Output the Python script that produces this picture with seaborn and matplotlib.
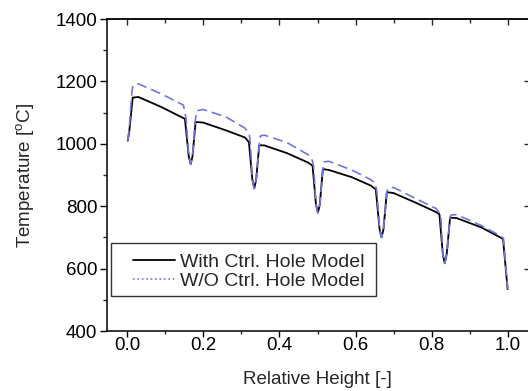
import matplotlib
matplotlib.use('Agg')
import matplotlib.pyplot as plt
from matplotlib.patches import Rectangle
import seaborn as sns
import numpy as np

# relative height / temperature
x_with = [0.002, 0.006, 0.015, 0.03, 0.09, 0.152,
          0.162, 0.167, 0.172, 0.180,
          0.20, 0.26, 0.31, 0.320,
          0.329, 0.334, 0.339, 0.347,
          0.36, 0.42, 0.475, 0.487,
          0.496, 0.501, 0.506, 0.514,
          0.53, 0.59, 0.64, 0.653,
          0.663, 0.668, 0.673, 0.682,
          0.70, 0.76, 0.81, 0.820,
          0.829, 0.834, 0.839, 0.848,
          0.865, 0.93, 0.975, 0.987,
          0.999]
t_with = [1010, 1040, 1148, 1150, 1118, 1080,
          960, 935, 960, 1070,
          1068, 1043, 1020, 1005,
          885, 857, 885, 995,
          995, 970, 940, 930,
          805, 779, 805, 919,
          916, 893, 866, 854,
          725, 700, 725, 845,
          842, 810, 782, 774,
          645, 617, 645, 763,
          762, 732, 703, 695,
          534]

x_wo = [0.002, 0.006, 0.013, 0.016, 0.03, 0.09, 0.148, 0.155,
        0.162, 0.167, 0.172, 0.179,
        0.183, 0.20, 0.26, 0.31, 0.321, 0.324,
        0.329, 0.334, 0.339, 0.347,
        0.350, 0.36, 0.42, 0.478, 0.487, 0.490,
        0.496, 0.501, 0.506, 0.514,
        0.517, 0.53, 0.59, 0.64, 0.652, 0.656,
        0.663, 0.668, 0.673, 0.682,
        0.685, 0.70, 0.76, 0.812, 0.821, 0.824,
        0.829, 0.834, 0.839, 0.848,
        0.851, 0.865, 0.93, 0.98, 0.988,
        0.999]
t_wo = [1010, 1050, 1170, 1188, 1192, 1160, 1124, 1082,
        960, 935, 960, 1072,
        1106, 1110, 1086, 1050, 1028, 1000,
        885, 857, 885, 995,
        1025, 1028, 1004, 963, 945, 925,
        805, 779, 805, 919,
        942, 944, 916, 885, 872, 845,
        725, 700, 725, 845,
        858, 860, 823, 792, 776, 760,
        645, 617, 645, 763,
        772, 773, 738, 705, 697,
        534]

labels = ['With Ctrl. Hole Model', 'W/O Ctrl. Hole Model']
xticks = [0.0, 0.2, 0.4, 0.6, 0.8, 1.0]
yticks = [400, 600, 800, 1000, 1200, 1400]

sns.set_style('ticks')
plt.rcParams['font.family'] = ['Liberation Sans', 'DejaVu Sans']

fig = plt.figure(figsize=(5.28, 3.91), dpi=100)
ax = fig.add_axes([107 / 528, 1 - 331 / 391, 421 / 528, 312 / 391])

blue = '#7474e2'
sns.lineplot(x=x_with, y=t_with, ax=ax, color='black', linewidth=1.3,
             label=labels[0], estimator=None, sort=False)
sns.lineplot(x=x_wo, y=t_wo, ax=ax, color=blue, linewidth=1.2,
             label=labels[1], estimator=None, sort=False, dashes=False)
ax.lines[1].set_dashes([6, 3])

ax.set_xlim(-0.0525, 1.0525)
ax.set_ylim(400, 1400)
ax.set_xticks(xticks)
ax.set_xticklabels([f'{v:.1f}' for v in xticks])
ax.set_xticks(np.arange(0.1, 1.0, 0.2), minor=True)
ax.set_yticks(yticks)
ax.set_yticks(np.arange(500, 1400, 200), minor=True)
ax.tick_params(axis='x', which='major', direction='out', length=4, width=1,
               labelsize=13.5, colors='black', pad=0.5)
ax.tick_params(axis='x', which='minor', direction='out', length=2.2, width=1)
ax.tick_params(axis='y', which='major', direction='out', length=5, width=1,
               labelsize=13.5, colors='black', pad=2)
ax.tick_params(axis='y', which='minor', direction='out', length=3, width=1)

for side in ['left', 'bottom', 'top']:
    ax.spines[side].set_color('black')
    ax.spines[side].set_linewidth(1.1)
ax.spines['right'].set_visible(False)

top = ax.secondary_xaxis('top')
top.set_xticks(xticks)
top.set_xticks(np.arange(0.1, 1.0, 0.2), minor=True)
top.tick_params(which='major', direction='in', length=4.3, width=1, labeltop=False)
top.tick_params(which='minor', direction='in', length=3, width=1)
top.spines['top'].set_linewidth(1.1)

right = ax.secondary_yaxis('right')
right.set_yticks([600, 800, 1000, 1200])
right.tick_params(which='major', direction='in', length=3, width=1, labelright=False)
right.spines['right'].set_visible(False)

ax.set_xlabel('Relative Height [-]', fontsize=13.5)
ax.set_ylabel('Temperature [$\\mathregular{^o}$C]', fontsize=13.5)
ax.xaxis.set_label_coords(0.5, -0.128)
ax.yaxis.set_label_coords(-0.168, 0.5)

# legend without its own frame, box drawn separately to get the wide left margin
leg = ax.legend(loc='center left', bbox_to_anchor=(0.0618, 0.1907), borderaxespad=0,
                fontsize=14, frameon=False,
                handlelength=2.16, handletextpad=0.26, labelspacing=0.05,
                borderpad=0)
leg.get_lines()[1].set_linestyle(':')
leg.get_lines()[1].set_linewidth(1.2)
ax.add_patch(Rectangle((0.0095, 0.112), 0.6295, 0.17, transform=ax.transAxes,
                       facecolor='white', edgecolor='#333333', linewidth=1.0,
                       zorder=4))

fig.savefig('out.png', dpi=100)
